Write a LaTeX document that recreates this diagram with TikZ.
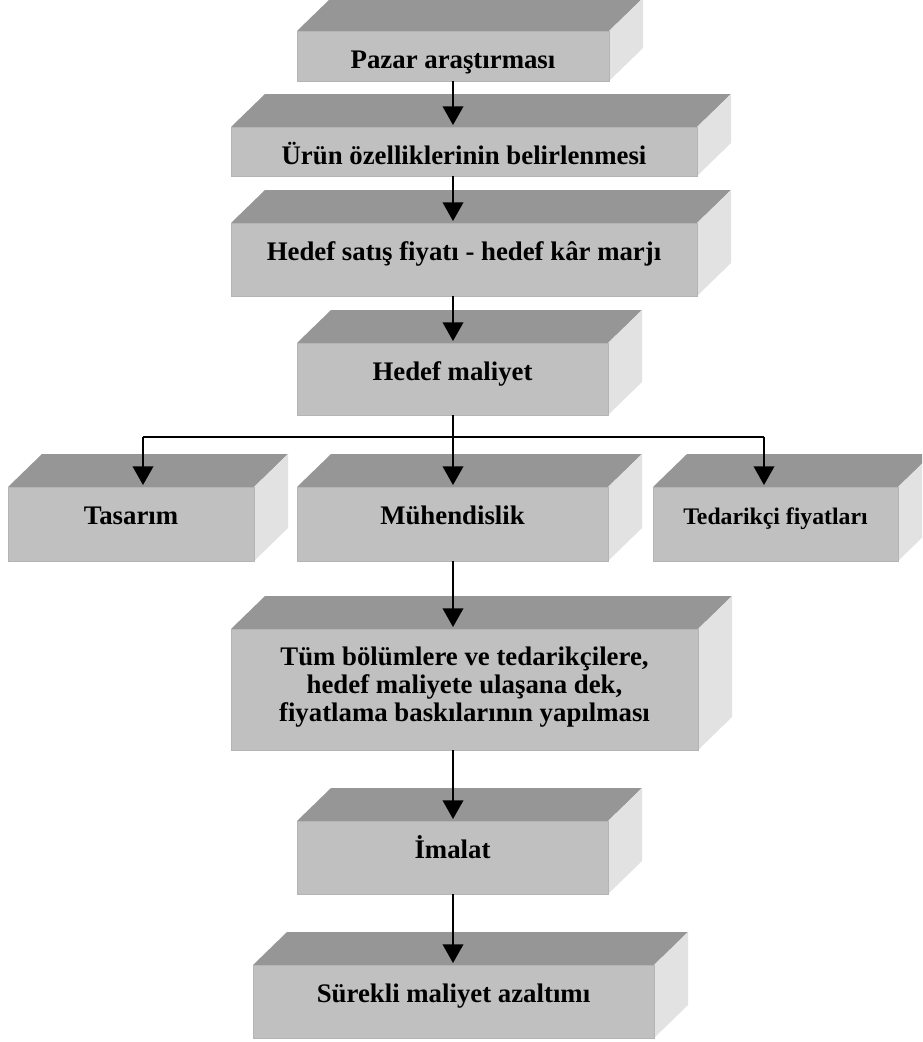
\documentclass[tikz,border=0pt]{standalone}
\usepackage{fontspec}
\setmainfont{Liberation Serif}
\usetikzlibrary{arrows.meta,calc,fit}
\definecolor{topc}{RGB}{150,150,150}
\definecolor{frontc}{RGB}{192,192,192}
\definecolor{sidec}{RGB}{226,226,226}
\definecolor{edgec}{RGB}{180,180,180}
\tikzset{
  front/.style={rectangle, inner sep=0pt, outer sep=0pt, fill=frontc, draw=edgec, line width=0.6pt},
  lbl/.style={inner sep=0pt, font=\fontsize{20.1}{21.2}\selectfont\bfseries, align=center},
  lblsmall/.style={inner sep=0pt, font=\fontsize{17.8}{20}\selectfont\bfseries},
  arr/.style={-{Triangle[width=15.5pt,length=14pt]}, line width=1.2pt, shorten >=1.5pt},
  conn/.style={line width=1.2pt}
}
% name, x1, y1, x2, y2 of the front face (px, y downward)
\newcommand\cubebox[5]{%
  \fill[topc] (#2,#3) -- (#2+34,#3-33) -- (#4+34,#3-33) -- (#4,#3) -- cycle;
  \fill[sidec] (#4,#3) -- (#4+34,#3-33) -- (#4+34,#5-33) -- (#4,#5) -- cycle;
  \node[front, fit={(#2,#3) (#4,#5)}] (#1) {};
}
\begin{document}
\begin{tikzpicture}[x=0.75pt, y=-0.75pt]
\useasboundingbox (0,0) rectangle (922,1042);
\clip (0,0) rectangle (922,1042);
\fill[white] (0,0) rectangle (922,1042);

\cubebox{b1}{297}{31}{609}{81}
\cubebox{b2}{231}{127}{697}{176}
\cubebox{b3}{231}{223}{697}{296}
\cubebox{b4}{297}{343}{608}{415}
\cubebox{b5}{8}{487}{254}{561}
\cubebox{b6}{297}{487}{608}{561}
\cubebox{b7}{653}{487}{898}{561}
\cubebox{b8}{231}{629}{698}{750}
\cubebox{b9}{297}{821}{608}{894}
\cubebox{b10}{253}{965}{654}{1038}

\node[lbl, anchor=base] (t1) at ($(b1.north)+(0,37)$) {Pazar araştırması};
\node[lbl, anchor=base] (t2) at ($(b2.north)+(0,37)$) {Ürün özelliklerinin belirlenmesi};
\node[lbl, anchor=base] (t3) at ($(b3.north)+(0,37)$) {Hedef satış fiyatı - hedef kâr marjı};
\node[lbl, anchor=base] (t4) at ($(b4.north)+(0,37)$) {Hedef maliyet};
\node[lbl, anchor=base] (t5) at ($(b5.north)+(0,37)$) {Tasarım};
\node[lbl, anchor=base] (t6) at ($(b6.north)+(0,37)$) {Mühendislik};
\node[lblsmall, anchor=base] (t7) at ($(b7.north)+(0,37)$) {Tedarikçi fiyatları};
\node[lbl, anchor=base] (t8) at ($(b8.north)+(0,92.6)$) {Tüm bölümlere ve tedarikçilere,\\hedef maliyete ulaşana dek,\\fiyatlama baskılarının yapılması};
\node[lbl, anchor=base] (t9) at ($(b9.north)+(0,37)$) {İmalat};
\node[lbl, anchor=base] (t10) at ($(b10.north)+(0,37)$) {Sürekli maliyet azaltımı};

\coordinate (spine) at (453,0);
\coordinate (j) at (453,437);
\coordinate (jl) at (143,437);
\coordinate (jr) at (764,437);

\draw[arr] (b1.south -| spine) -- (b2.north -| spine);
\draw[arr] (b2.south -| spine) -- (b3.north -| spine);
\draw[arr] (b3.south -| spine) -- (b4.north -| spine);
\draw[conn] (b4.south -| spine) -- (j);
\draw[conn] (jl) -- (jr);
\draw[arr] (jl) -- (jl |- b5.north);
\draw[arr] (j) -- (j |- b6.north);
\draw[arr] (jr) -- (jr |- b7.north);
\draw[arr] (b6.south -| spine) -- (b8.north -| spine);
\draw[arr] (b8.south -| spine) -- (b9.north -| spine);
\draw[arr] (b9.south -| spine) -- (b10.north -| spine);
\end{tikzpicture}
\end{document}
